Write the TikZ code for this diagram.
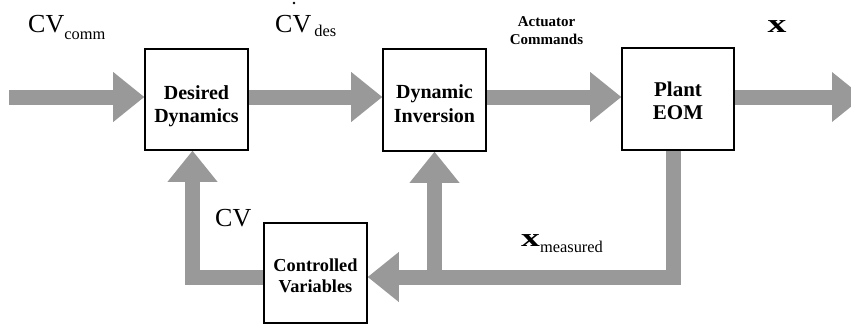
\documentclass[tikz,border=0pt]{standalone}
\usepackage{fontspec}
\setmainfont{Liberation Serif}
\usetikzlibrary{arrows.meta,backgrounds}

\definecolor{flowgray}{RGB}{153,153,153}

\newcommand{\sigsz}{\fontsize{26}{26}\selectfont}
\newcommand{\subsz}{\fontsize{16.4}{16.4}\selectfont}

\tikzset{
  blk/.style={draw=black, line width=1.6pt, fill=white, inner sep=0pt},
  blktxt/.style={font=\bfseries, align=center, inner sep=0pt},
  flow/.style={draw=flowgray, line width=15pt, line join=miter, line cap=butt,
    -{Triangle[width=50pt,length=31pt,line width=0pt]}},
  sig/.style={inner sep=0pt, font=\sigsz},
}

\begin{document}
\begin{tikzpicture}[x=1pt,y=-1pt]
  \useasboundingbox (0,0) rectangle (851,329);

  % blocks
  \path (196.5,99.5) node[blk, minimum width=103pt, minimum height=101pt] (dd) {};
  \path (434.5,100)  node[blk, minimum width=103pt, minimum height=102pt] (di) {};
  \path (678,99)     node[blk, minimum width=112pt, minimum height=102pt] (pl) {};
  \path (315.5,273)  node[blk, minimum width=103pt, minimum height=100pt] (cv) {};

  % signal routing points
  \coordinate (in)  at (9,97);
  \coordinate (out) at (863,97);
  \coordinate (fbR) at (673.5,277);
  \coordinate (fbM) at (434.5,277);
  \coordinate (fbL) at (192.5,277);

  % arrows go underneath the block frames
  \begin{scope}[on background layer]
    \clip (0,0) rectangle (851,329);
    % forward path
    \draw[flow] (in) -- (dd.west |- in);
    \draw[flow] (dd.east |- in) -- (di.west |- in);
    \draw[flow] (di.east |- in) -- (pl.west |- in);
    \draw[flow] (pl.east |- in) -- (out);
    % feedback path
    \draw[flow] (pl.south -| fbR) -- (fbR) -- (cv.east |- fbR);
    \draw[flow] (fbM) -- (di.south -| fbM);
    \draw[flow] (cv.west |- fbL) -- (fbL) -- (dd.south -| fbL);
  \end{scope}

  % block labels
  \node[blktxt, font=\bfseries\fontsize{20}{23.5}\selectfont] (ddt) at ([yshift=-6.5pt]dd.center) {Desired\\Dynamics};
  \node[blktxt, font=\bfseries\fontsize{20}{23.5}\selectfont] (dit) at ([yshift=-3.5pt]di.center) {Dynamic\\Inversion};
  \node[blktxt, font=\bfseries\fontsize{21}{23}\selectfont] (plt) at ([yshift=-2pt]pl.center) {Plant\\EOM};
  \node[blktxt, font=\bfseries\fontsize{18.3}{20.5}\selectfont] (cvt) at ([yshift=-3pt]cv.center) {Controlled\\Variables};

  % signal labels
  \node[sig, anchor=base west] (lcomm) at (28,33) {CV\raisebox{-7pt}{\subsz comm}};
  \node[sig, anchor=base west] (ldes) at (275,33) {CV\hspace{3pt}\raisebox{-4pt}{\subsz des}};
  \node[inner sep=0pt, anchor=base, font=\bfseries\fontsize{15}{15}\selectfont] (lact) at (546.5,27) {Actuator};
  \node[inner sep=0pt, anchor=base, font=\bfseries\fontsize{15}{15}\selectfont] (lcmd) at (546.5,44.5) {Commands};
  \node[sig, anchor=base] (lx) at (777,33) {\bfseries\scalebox{1.45}[1]{x}};
  \node[sig, anchor=base west] (lxm) at (521,246) {\bfseries\scalebox{1.45}[1]{x}\mdseries\raisebox{-6pt}{\subsz measured}};
  \node[sig, anchor=base west] (lcv) at (215,226) {CV};

  % small mark at the top edge
  \fill (294,3) circle (1.3pt);
\end{tikzpicture}
\end{document}
